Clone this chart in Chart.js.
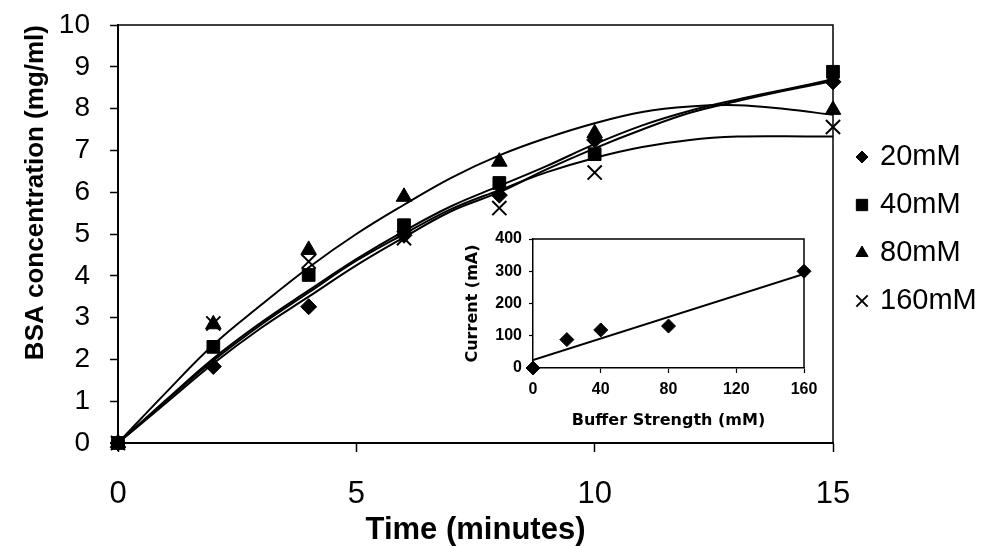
<!DOCTYPE html>
<html>
<head>
<meta charset="utf-8">
<script src="https://cdn.jsdelivr.net/npm/chart.js@4.4.1/dist/chart.umd.min.js"></script>
<style>
    html, body { margin: 0; padding: 0; background: #fff; }
    #wrap { position: relative; width: 986px; height: 546px; }
    #main { position: absolute; left: 0; top: 0; }
    #inset { position: absolute; left: 455px; top: 225px; }
</style>
</head>
<body>
<div id="wrap">
    <canvas id="main" width="986" height="546"></canvas>
    <canvas id="inset" width="375" height="210"></canvas>
</div>
<script>
// Measured BSA concentration (mg/ml) at each sampling time (minutes)
var times = [0, 2, 4, 6, 8, 10, 15]
var conc20 = [0, 1.83, 3.26, 4.97, 5.93, 7.25, 8.64]
var conc40 = [0, 2.30, 4.02, 5.21, 6.22, 6.91, 8.88]
var conc80 = [0, 2.84, 4.62, 5.89, 6.73, 7.41, 7.97]
var conc160 = [0, 2.86, 4.34, 4.90, 5.62, 6.47, 7.56]

var fitTimes = [0, 1, 2, 3, 4, 5, 6, 7, 8, 9, 10, 11, 12, 13, 14, 15]
var fit20 = [0, 0.95, 1.9, 2.75, 3.5, 4.25, 4.92, 5.55, 6.0, 6.55, 7.05, 7.5, 7.9, 8.18, 8.43, 8.66]
var fit40 = [0, 1.02, 2.02, 2.88, 3.65, 4.4, 5.07, 5.67, 6.15, 6.63, 7.15, 7.6, 7.95, 8.22, 8.46, 8.7]
var fit80 = [0, 1.2, 2.35, 3.3, 4.2, 5.0, 5.7, 6.35, 6.88, 7.3, 7.65, 7.92, 8.05, 8.08, 7.99, 7.85]
var fit160 = [0, 1.0, 1.97, 2.83, 3.6, 4.36, 5.0, 5.6, 6.05, 6.48, 6.82, 7.08, 7.25, 7.33, 7.34, 7.33]

var seriesLabels = ['20mM', '40mM', '80mM', '160mM']
var seriesStyles = ['rectRot', 'rect', 'triangle', 'crossRot']

// Inset: current vs buffer strength
var buffer = [0, 20, 40, 80, 160]
var current = [0, 88, 118, 130, 300]
var trendBuffer = [0, 160]
var trendCurrent = [25, 292]

var pairs = function (xs, ys) {
    return xs.map(function (x, i) { return {x: x, y: ys[i]} })
}

Chart.defaults.font.family = '"Liberation Sans", Arial, sans-serif'
Chart.defaults.color = '#000'

var markerSize = [8, 9, 9, 10]
var legendSize = [6, 8, 7, 8]

var pointSets = [conc20, conc40, conc80, conc160].map(function (vals, i) {
    return {
        label: seriesLabels[i],
        data: pairs(times, vals),
        pointStyle: seriesStyles[i],
        pointRadius: markerSize[i],
        pointBorderWidth: seriesStyles[i] == 'crossRot' ? 2 : 1,
        backgroundColor: '#000',
        borderColor: '#000',
        showLine: false,
        clip: false
    }
})

var fitSets = [fit20, fit40, fit80, fit160].map(function (vals, i) {
    return {
        label: seriesLabels[i] + ' fit',
        data: pairs(fitTimes, vals),
        showLine: true,
        pointRadius: 0,
        borderColor: '#000',
        borderWidth: 2,
        tension: 0.4
    }
})

// box round the plot area (top and right edges)
var frame = {
    id: 'frame',
    beforeDatasetsDraw: function (chart) {
        var a = chart.chartArea
        var ctx = chart.ctx
        ctx.save()
        ctx.strokeStyle = '#000'
        ctx.lineWidth = 1.5
        ctx.beginPath()
        ctx.moveTo(a.left, a.top)
        ctx.lineTo(a.right, a.top)
        ctx.lineTo(a.right, a.bottom)
        ctx.stroke()
        ctx.restore()
    }
}

// legend to the right of the plot
var sideLegend = {
    id: 'sideLegend',
    afterDraw: function (chart) {
        var ctx = chart.ctx
        ctx.save()
        ctx.font = '29px "Liberation Sans", Arial, sans-serif'
        ctx.textBaseline = 'middle'
        ctx.textAlign = 'left'
        seriesLabels.forEach(function (label, i) {
            var y = 157 + i * 48
            ctx.fillStyle = '#000'
            ctx.strokeStyle = '#000'
            ctx.lineWidth = seriesStyles[i] == 'crossRot' ? 2 : 1
            Chart.helpers.drawPoint(ctx, {pointStyle: seriesStyles[i], radius: legendSize[i], borderWidth: ctx.lineWidth}, 862, y)
            ctx.fillStyle = '#000'
            ctx.fillText(label, 880, y)
        })
        ctx.restore()
    }
}

new Chart(document.getElementById('main').getContext('2d'), {
    type: 'scatter',
    data: {
        datasets: pointSets.concat(fitSets)
    },
    plugins: [frame, sideLegend],
    options: {
        responsive: false,
        animation: false,
        layout: {
            autoPadding: false,
            padding: {left: 0, top: 25, right: 153, bottom: 0}
        },
        plugins: {
            legend: {display: false},
            tooltip: {enabled: false}
        },
        scales: {
            x: {
                type: 'linear',
                min: 0,
                max: 15,
                ticks: {
                    stepSize: 5,
                    color: '#000',
                    padding: 24,
                    font: {family: '"Liberation Sans Narrow", "Liberation Sans", Arial, sans-serif', size: 31}
                },
                grid: {drawOnChartArea: false, tickLength: 9, tickColor: '#000', tickWidth: 1.5},
                border: {color: '#000', width: 2},
                title: {
                    display: true,
                    text: 'Time (minutes)',
                    color: '#000',
                    font: {size: 31, weight: 'bold', lineHeight: 1},
                    padding: {top: 4, bottom: 0}
                },
                afterFit: function (s) { s.height = 103 }
            },
            y: {
                min: 0,
                max: 10,
                ticks: {
                    stepSize: 1,
                    color: '#000',
                    padding: 20,
                    // small lineHeight keeps the tick padding from pushing the plot down
                    font: {size: 28, lineHeight: 0.3}
                },
                grid: {drawOnChartArea: false, tickLength: 8, tickColor: '#000', tickWidth: 1.5},
                border: {color: '#000', width: 2},
                title: {
                    display: true,
                    text: 'BSA concentration (mg/ml)',
                    align: 'end',
                    color: '#000',
                    font: {size: 26, weight: 'bold'},
                    padding: {top: 20, bottom: 0}
                },
                afterFit: function (s) { s.width = 118 }
            }
        }
    }
})

// Inset chart
new Chart(document.getElementById('inset').getContext('2d'), {
    type: 'scatter',
    data: {
        datasets: [{
            label: 'Current',
            data: pairs(buffer, current),
            pointStyle: 'rectRot',
            pointRadius: 7,
            backgroundColor: '#000',
            borderColor: '#000',
            showLine: false,
            clip: false
        }, {
            label: 'Trend',
            data: pairs(trendBuffer, trendCurrent),
            showLine: true,
            pointRadius: 0,
            borderColor: '#000',
            borderWidth: 2
        }]
    },
    plugins: [frame],
    options: {
        responsive: false,
        animation: false,
        layout: {
            autoPadding: false,
            padding: {left: 0, top: 14, right: 26, bottom: 0}
        },
        plugins: {
            legend: {display: false},
            tooltip: {enabled: false}
        },
        scales: {
            x: {
                type: 'linear',
                min: 0,
                max: 160,
                ticks: {stepSize: 40, color: '#000', padding: 7, font: {size: 16, weight: 'bold'}},
                grid: {drawOnChartArea: false, tickLength: 5, tickColor: '#000', tickWidth: 1.2},
                border: {color: '#000', width: 1.5},
                title: {
                    display: true,
                    text: 'Buffer Strength (mM)',
                    color: '#000',
                    font: {family: '"DejaVu Sans", sans-serif', size: 16, weight: 'bold'},
                    padding: {top: 2, bottom: 5}
                },
                afterFit: function (s) { s.height = 67 }
            },
            y: {
                min: 0,
                max: 400,
                ticks: {stepSize: 100, color: '#000', padding: 7, font: {size: 16, weight: 'bold', lineHeight: 0.5}},
                grid: {drawOnChartArea: false, tickLength: 4, tickColor: '#000', tickWidth: 1.2},
                border: {color: '#000', width: 1.5},
                title: {
                    display: true,
                    text: 'Current (mA)',
                    color: '#000',
                    font: {family: '"DejaVu Sans", sans-serif', size: 16, weight: 'bold'},
                    padding: {top: 8, bottom: 0}
                },
                afterFit: function (s) { s.width = 78 }
            }
        }
    }
})
</script>
</body>
</html>
